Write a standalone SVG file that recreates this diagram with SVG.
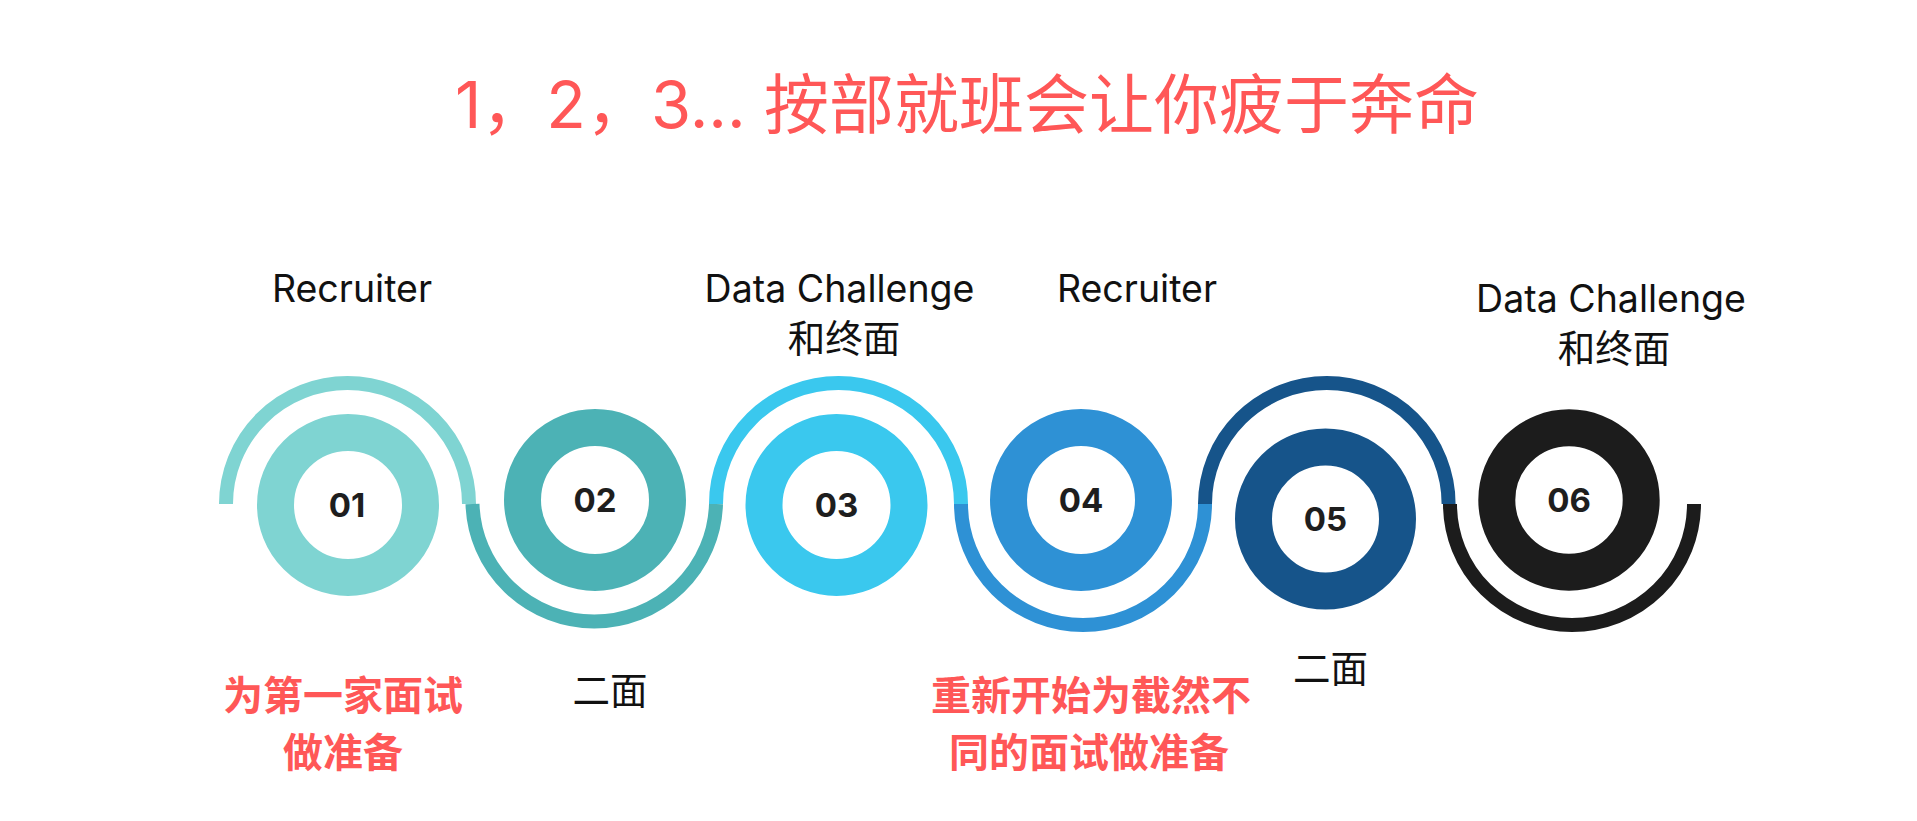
<svg xmlns="http://www.w3.org/2000/svg" width="1917" height="821" viewBox="0 0 1917 821">
<style>
.title{font-family:Inter,"Noto Sans CJK SC",sans-serif;font-size:65px;fill:#FF5757;text-anchor:middle}
.lbl{font-family:Inter,"Noto Sans CJK SC",sans-serif;font-size:37.5px;fill:#111;text-anchor:middle}
.red{font-family:"Noto Sans CJK SC",sans-serif;font-size:40px;font-weight:700;fill:#FF5757;text-anchor:middle}
.num{font-family:Inter,"Noto Sans",sans-serif;font-size:33px;font-weight:700;fill:#1E1E1E;text-anchor:middle}
.arc{fill:none;stroke-width:14}
.ring{fill:none;stroke-width:37}
</style>
<rect width="1917" height="821" fill="#fff"/>
<text class="title" x="967" y="128">1，2，3... 按部就班会让你疲于奔命</text>
<g id="connectors">
<path class="arc" stroke="#7FD4D2" d="M226 504 A121.5 121 0 0 1 469 504"/>
<path class="arc" stroke="#4CB2B5" d="M472.5 504 A121.8 121 0 0 0 716 504"/>
<path class="arc" stroke="#3AC8EE" d="M716 504 A122.5 121 0 0 1 961 504"/>
<path class="arc" stroke="#2E91D5" d="M961 504 A122 121 0 0 0 1205 504"/>
<path class="arc" stroke="#16548A" d="M1205 504 A121.8 121 0 0 1 1448.6 504"/>
<path class="arc" stroke="#1C1C1C" d="M1450 504 A122 121 0 0 0 1694 504"/>
</g>
<g id="n1">
<circle class="ring" cx="348" cy="505" r="72.5" stroke="#7FD4D2"/>
<text class="num" x="347" y="517">01</text>
<text class="lbl" x="352" y="302">Recruiter</text>
<text class="red" x="343" y="710">为第一家面试</text>
<text class="red" x="343" y="767">做准备</text>
</g>
<g id="n2">
<circle class="ring" cx="595" cy="500" r="72.5" stroke="#4CB2B5"/>
<text class="num" x="595" y="512">02</text>
<text class="lbl" x="610" y="704">二面</text>
</g>
<g id="n3">
<circle class="ring" cx="836.5" cy="505" r="72.5" stroke="#3AC8EE"/>
<text class="num" x="836.5" y="517">03</text>
<text class="lbl" x="839.5" y="302">Data Challenge</text>
<text class="lbl" x="844" y="352">和终面</text>
</g>
<g id="n4">
<circle class="ring" cx="1081" cy="500" r="72.5" stroke="#2E91D5"/>
<text class="num" x="1081" y="512">04</text>
<text class="lbl" x="1137" y="302">Recruiter</text>
<text class="red" x="1091" y="710">重新开始为截然不</text>
<text class="red" x="1089" y="767">同的面试做准备</text>
</g>
<g id="n5">
<circle class="ring" cx="1325.5" cy="519" r="72" stroke="#16548A"/>
<text class="num" x="1325.5" y="531">05</text>
<text class="lbl" x="1330.5" y="682">二面</text>
</g>
<g id="n6">
<circle class="ring" cx="1569" cy="500" r="72.2" stroke="#1C1C1C"/>
<text class="num" x="1569" y="512">06</text>
<text class="lbl" x="1611" y="312">Data Challenge</text>
<text class="lbl" x="1614" y="362">和终面</text>
</g>
</svg>
